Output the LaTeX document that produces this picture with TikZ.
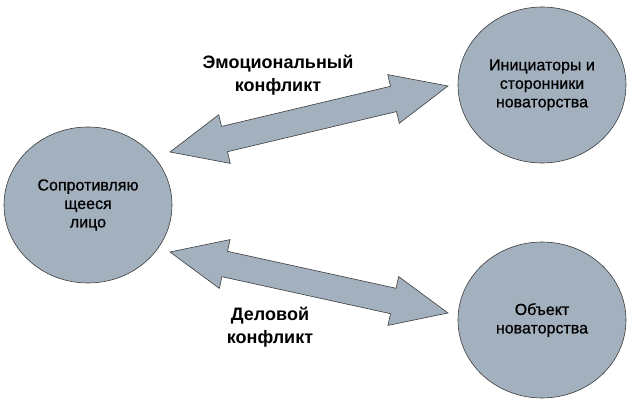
\documentclass[tikz,border=0pt]{standalone}
\usepackage{fontspec}
\setmainfont{Liberation Sans}
\newfontfamily\circlefont[FakeBold=0.8]{Liberation Sans}
\usetikzlibrary{calc,shapes.geometric}
\definecolor{shapefill}{RGB}{163,177,191}
\definecolor{shapeline}{RGB}{60,60,60}
\newcommand{\blockdblarrow}[2]{%
  \path[arrowbody] (#1)
    -- ($(#1)!56pt!(#2)!25pt!90:(#2)$)
    -- ($(#1)!56pt!(#2)!13pt!90:(#2)$)
    -- ($(#2)!56pt!(#1)!13pt!-90:(#1)$)
    -- ($(#2)!56pt!(#1)!25pt!-90:(#1)$)
    -- (#2)
    -- ($(#2)!56pt!(#1)!25pt!90:(#1)$)
    -- ($(#2)!56pt!(#1)!13pt!90:(#1)$)
    -- ($(#1)!56pt!(#2)!13pt!-90:(#2)$)
    -- ($(#1)!56pt!(#2)!25pt!-90:(#2)$)
    -- cycle;}
\begin{document}
\begin{tikzpicture}[x=1pt,y=1pt,
  party/.style={ellipse, fill=shapefill, draw=shapeline, line width=0.6pt,
    minimum width=168pt, minimum height=156pt, inner sep=0pt, align=center,
    font=\circlefont\fontsize{16}{18.5}\selectfont},
  arrowbody/.style={fill=shapefill, draw=shapeline, line width=0.6pt, line join=miter},
  conflictlabel/.style={align=center, font=\fontsize{18}{23}\selectfont\bfseries}]
\path[fill=white] (0,0) rectangle (630,402);
\useasboundingbox (0,0) rectangle (630,402);
\node[party] (resist) at (88,197) {Сопротивляю\\щееся\\лицо};
\node[party] (init) at (542,317) {Инициаторы и\\сторонники\\новаторства};
\node[party] (object) at (542,82) {Объект\\новаторства};
\coordinate (ta) at (170,250);
\coordinate (tb) at (448,316);
\coordinate (ba) at (170,150);
\coordinate (bb) at (448,89);
\blockdblarrow{ta}{tb}
\blockdblarrow{ba}{bb}
\node[conflictlabel] (emo) at (278,327) {Эмоциональный\\конфликт};
\node[conflictlabel] (biz) at (270,75) {Деловой\\конфликт};
\end{tikzpicture}
\end{document}
